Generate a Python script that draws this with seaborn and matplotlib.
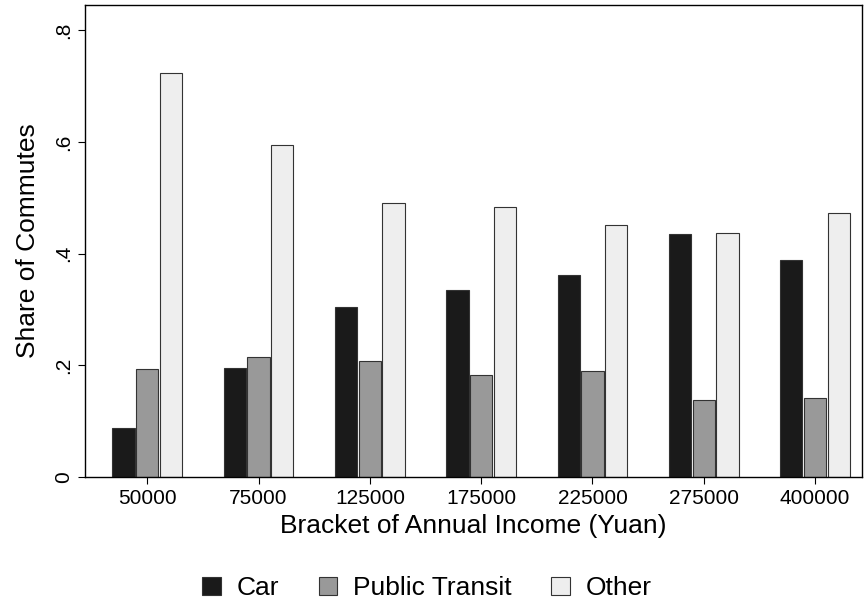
import matplotlib
matplotlib.use("Agg")
import matplotlib.pyplot as plt
import seaborn as sns
import pandas as pd

brackets = ["50000", "75000", "125000", "175000", "225000", "275000", "400000"]
car = [0.088, 0.195, 0.304, 0.335, 0.362, 0.435, 0.388]
transit = [0.193, 0.215, 0.208, 0.183, 0.190, 0.138, 0.141]
other = [0.723, 0.594, 0.490, 0.483, 0.451, 0.437, 0.472]
modes = ["Car", "Public Transit", "Other"]

df = pd.DataFrame({
    "bracket": brackets * 3,
    "share": car + transit + other,
    "mode": [modes[0]] * 7 + [modes[1]] * 7 + [modes[2]] * 7,
})

sns.set_style("white")
plt.rcParams["font.family"] = ["Liberation Sans", "DejaVu Sans"]
plt.rcParams["text.color"] = "black"
plt.rcParams["axes.labelcolor"] = "black"
plt.rcParams["xtick.color"] = "black"
plt.rcParams["ytick.color"] = "black"
fig = plt.figure(figsize=(8.67, 6.08), dpi=100)
ax = fig.add_axes([0.098, 0.215, 0.896, 0.777])
sns.barplot(data=df, x="bracket", y="share", hue="mode", order=brackets, hue_order=modes,
            palette=["#1a1a1a", "#999999", "#eeeeee"], width=0.64, gap=0.06,
            edgecolor="#333333", linewidth=0.8, ax=ax, legend=True)
ax.set_xlim(-0.56, 6.42)
ax.set_ylim(0, 0.845)
ax.set_yticks([0, 0.2, 0.4, 0.6, 0.8])
ax.set_yticklabels(["0", ".2", ".4", ".6", ".8"], rotation=90, va="center", fontsize=15)
ax.tick_params(axis="x", labelsize=15, length=5, bottom=True)
ax.tick_params(axis="y", length=5, left=True)
ax.set_xlabel("Bracket of Annual Income (Yuan)", fontsize=19, labelpad=4)
ax.set_ylabel("Share of Commutes", fontsize=19, labelpad=10)
for s in ax.spines.values():
    s.set_color("black")
    s.set_linewidth(1)
ax.legend(loc="center", bbox_to_anchor=(0.44, -0.235), ncol=3, frameon=False,
          fontsize=19, handlelength=0.7, handleheight=0.7, columnspacing=1.5, handletextpad=0.6)
fig.savefig("out.png", dpi=100)
